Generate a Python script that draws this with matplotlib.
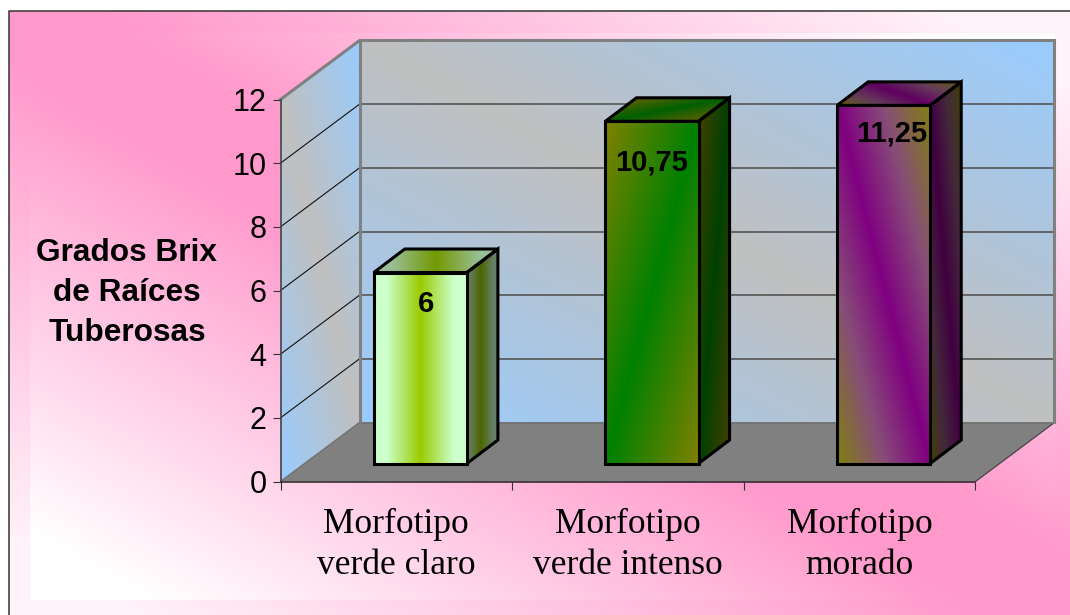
import numpy as np
import matplotlib
matplotlib.use("Agg")
import matplotlib.pyplot as plt
from matplotlib.patches import Polygon

categories = ["Morfotipo\nverde claro", "Morfotipo\nverde intenso", "Morfotipo\nmorado"]
values = [6, 10.75, 11.25]
value_labels = ["6", "10,75", "11,25"]
y_ticks = [0, 2, 4, 6, 8, 10, 12]
y_title = "Grados Brix\nde Raíces\nTuberosas"

W, H = 1070, 615
PINK, WHITE = "#ff99cc", "#ffffff"
GRAY, BLUE = "#c0c0c0", "#99ccff"
to_rgb = matplotlib.colors.to_rgb

fig = plt.figure(figsize=(W / 100, H / 100), dpi=100, facecolor="white")
canvas = fig.add_axes([0, 0, 1, 1], zorder=0)
canvas.set_xlim(0, W)
canvas.set_ylim(0, H)
canvas.axis("off")

ax = fig.add_axes([280.5 / W, (H - 481.5) / H, 695 / W, 382 / H], zorder=1)
ax.patch.set_visible(False)
ax.set_xlim(0, 3)
ax.set_ylim(0, 12)

WALL = np.array([79.0, 59.0])
BAR_OFF = np.array([24.0, 18.0])
BAR_DEPTH = np.array([31.0, 23.5])
BAR_W = 0.402


def pt(x, y, off=(0, 0)):
    return ax.transData.transform((x, y)) + np.asarray(off, float)


def anti(u, v):
    return np.abs(u + v - 1)


def main(u, v):
    return np.abs(u - v)


def soft(u, v):
    return np.clip((np.abs(u - v) - .08) / .8, 0, 1)


def flat_u(u, v):
    return np.abs(2 * u - 1) / .72


def top_u(u, v):
    return np.abs(2 * (u * 93 + (1 - v) * 31) / 124 - 1) / .72


def side_u(u, v):
    return np.abs(u - .45) / .4


def face(p00, p10, p01, c0, c1, fn, z, shade=1.0, edge=None, lw=0, mid=None):
    """Paint a parallelogram: p00 top-left, p10 top-right, p01 bottom-left."""
    p00, p10, p01 = map(np.asarray, (p00, p10, p01))
    p11 = p10 + p01 - p00
    corners = np.array([p00, p10, p11, p01])
    x0, y0 = np.floor(corners.min(axis=0))
    x1, y1 = np.ceil(corners.max(axis=0))
    xs, ys = np.meshgrid(np.arange(x0, x1) + .5, np.arange(y0, y1) + .5)
    M = np.linalg.inv(np.column_stack([p10 - p00, p01 - p00]))
    u = M[0, 0] * (xs - p00[0]) + M[0, 1] * (ys - p00[1])
    v = M[1, 0] * (xs - p00[0]) + M[1, 1] * (ys - p00[1])
    t = np.clip(fn(np.clip(u, 0, 1), np.clip(v, 0, 1)), 0, 1)
    stops = [c0, c1] if mid is None else [c0, mid, c1]
    grid = np.linspace(0, 1, len(stops))
    arr = np.array([to_rgb(s) for s in stops])
    rgb = np.stack([np.interp(t, grid, arr[:, k]) for k in range(3)], axis=-1) * shade
    clip = Polygon(corners, closed=True, transform=canvas.transData)
    canvas.imshow(rgb, origin="lower", extent=(x0, x1, y0, y1), aspect="auto",
                  clip_path=clip, zorder=z, interpolation="nearest")
    if edge:
        canvas.add_patch(Polygon(corners, closed=True, fill=False, edgecolor=edge,
                                 linewidth=lw, zorder=z + .1, joinstyle="miter"))


def seg(a, b, color, lw, z):
    canvas.plot([a[0], b[0]], [a[1], b[1]], color=color, lw=lw, zorder=z,
                solid_capstyle="butt")


# backgrounds
face((9, H - 11), (W, H - 11), (9, 0), PINK, "#fff3f9", soft, 0)
face((30, H - 33), (1055, H - 33), (30, H - 600), PINK, WHITE, soft, 1)
canvas.plot([9, 9, W], [0, H - 11, H - 11], color="#333333", lw=1.1, zorder=2)

# walls
fl, fr = pt(0, 12), pt(3, 12)
bl0, br0 = pt(0, 0), pt(3, 0)
face(fl, fl + WALL, bl0, GRAY, BLUE, main, 3)
face(fl + WALL, fr + WALL, bl0 + WALL, GRAY, BLUE, main, 3)
for tick in y_ticks[1:-1]:
    seg(pt(0, tick), pt(0, tick, WALL), "#111111", .8, 4)
    seg(pt(0, tick, WALL), pt(3, tick, WALL), "#555555", 1.2, 4)

# floor
canvas.add_patch(Polygon([bl0, br0, br0 + WALL, bl0 + WALL], closed=True,
                         facecolor="#808080", edgecolor="none", zorder=5))
seg(br0, br0 + WALL, "#444444", .9, 6)
seg(bl0 + WALL, br0 + WALL, "#707070", 1.2, 6)
seg(bl0, bl0 + WALL, "#707070", 1, 6)
canvas.plot(*np.array([fl, fl + WALL, fr + WALL, br0 + WALL]).T, color="#808080", lw=2.2, zorder=6,
            solid_joinstyle="miter")
seg(bl0 + WALL, fl + WALL, "#808080", 2.2, 6)

# bars
P_MID = "#874e78"
styles = [
    dict(front=("#99cc00", "#ccffcc", flat_u, None), top=("#99cc00", "#ccffcc", top_u, None),
         side=("#99cc00", "#ccffcc", side_u, None)),
    dict(front=("#008000", "#808000", anti, None), top=("#008000", "#808000", anti, None),
         side=("#008000", "#808000", anti, None)),
    dict(front=("#800080", "#808010", main, P_MID), top=("#800080", "#808010", main, P_MID),
         side=("#800080", "#808010", main, P_MID)),
]
for i, (val, st) in enumerate(zip(values, styles)):
    c = i + .5
    tl = pt(c - BAR_W / 2, val, BAR_OFF)
    tr = pt(c + BAR_W / 2, val, BAR_OFF)
    bl = pt(c - BAR_W / 2, 0, BAR_OFF)
    br = pt(c + BAR_W / 2, 0, BAR_OFF)
    z = 10 + i
    c0, c1, fn, mid = st["side"]
    face(tr, tr + BAR_DEPTH, br, c0, c1, fn, z, shade=.5, edge="black", lw=2.2, mid=mid)
    c0, c1, fn, mid = st["top"]
    face(tl + BAR_DEPTH, tr + BAR_DEPTH, tl, c0, c1, fn, z, shade=.75, edge="black", lw=2.2, mid=mid)
    c0, c1, fn, mid = st["front"]
    face(tl, tr, bl, c0, c1, fn, z + .2, edge="black", lw=2.2, mid=mid)

canvas.set_xlim(0, W)
canvas.set_ylim(0, H)

# axes furniture
ax.set_yticks(y_ticks)
ax.set_xticks([0, 1, 2, 3])
ax.set_xticklabels([])
ax.set_xticks([.5, 1.5, 2.5], categories, minor=True)
ax.tick_params(axis="x", which="major", direction="out", length=5.5, width=.8, color="#333333")
ax.tick_params(axis="x", which="minor", length=0, pad=19, labelsize=25.5, labelfontfamily="Liberation Serif")
ax.tick_params(axis="y", direction="out", length=6, width=.8, color="#333333", pad=4,
               labelsize=22, labelfontfamily="Liberation Sans")
for lab in ax.get_xticklabels(minor=True):
    lab.set_linespacing(1.34)
for s in ("top", "right"):
    ax.spines[s].set_visible(False)
ax.spines["left"].set_color("#444444")
ax.spines["left"].set_linewidth(1.2)
ax.spines["bottom"].set_color("#222222")
ax.spines["bottom"].set_linewidth(1.1)

ax.text(-.6626, 5.92, y_title, ha="center", va="center", fontsize=22.8, fontweight="bold",
        family="Liberation Sans", linespacing=1.44, clip_on=False)

nudges = [(30, -13), (24, -23), (32, -10)]
for i, (val, txt, nd) in enumerate(zip(values, value_labels, nudges)):
    ax.annotate(txt, xy=(i + .5, val), xytext=nd, textcoords="offset pixels",
                ha="center", va="center", fontsize=21, fontweight="bold",
                family="Liberation Sans", color="black", zorder=20, annotation_clip=False)

fig.savefig("out.png", dpi=100)
